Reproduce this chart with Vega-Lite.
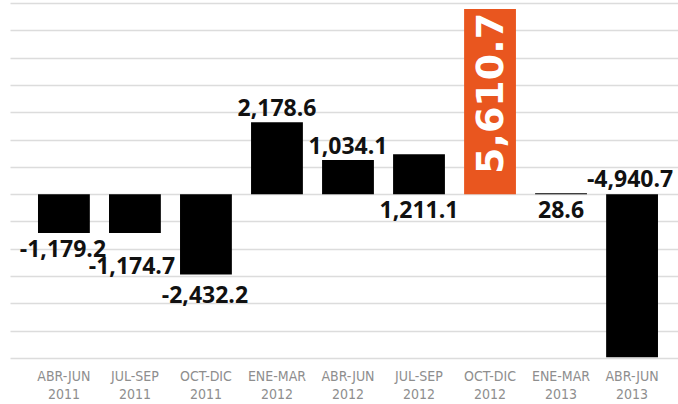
{
  "$schema": "https://vega.github.io/schema/vega-lite/v6.json",
  "width": 668,
  "height": 355,
  "autosize": {"type": "none"},
  "padding": {"left": 10, "top": 3, "right": 0, "bottom": 46},
  "background": "white",
  "config": {"view": {"stroke": null}},
  "data": {
    "values": [
      {"q": "ABR-JUN 2011", "v": -1179.2},
      {"q": "JUL-SEP 2011", "v": -1174.7},
      {"q": "OCT-DIC 2011", "v": -2432.2},
      {"q": "ENE-MAR 2012", "v": 2178.6},
      {"q": "ABR-JUN 2012", "v": 1034.1},
      {"q": "JUL-SEP 2012", "v": 1211.1},
      {"q": "OCT-DIC 2012", "v": 5610.7},
      {"q": "ENE-MAR 2013", "v": 28.6},
      {"q": "ABR-JUN 2013", "v": -4940.7}
    ]
  },
  "encoding": {
    "x": {
      "field": "q", "type": "nominal", "sort": null,
      "scale": {"paddingInner": 0.27, "paddingOuter": 0.338, "align": 0.583},
      "axis": {
        "title": null, "domain": false, "ticks": false, "labelAngle": 0,
        "labelExpr": "split(datum.label, ' ')",
        "labelFont": "Liberation Sans Narrow, DejaVu Sans Condensed, sans-serif",
        "labelFontSize": 14, "labelColor": "#8e8e8e", "labelPadding": 11,
        "labelLineHeight": 18
      }
    },
    "y": {
      "field": "v", "type": "quantitative",
      "scale": {"domain": [-4962, 5789], "nice": false, "zero": false},
      "axis": {
        "title": null, "labels": false, "ticks": false, "domain": false,
        "values": [-4962, -4135, -3308, -2481, -1654, -827, 0, 827, 1654, 2481, 3308, 4135, 4962, 5789],
        "grid": true, "gridColor": "#dcdcdc", "gridWidth": 1.5
      }
    }
  },
  "layer": [
    {
      "mark": {"type": "bar"},
      "encoding": {
        "y2": {"datum": 0},
        "color": {"condition": {"test": "datum.q === 'OCT-DIC 2012'", "value": "#e9561f"}, "value": "#000000"}
      }
    },
    {
      "transform": [{"filter": {"field": "q", "oneOf": ["ENE-MAR 2012", "ABR-JUN 2012"]}}],
      "mark": {"type": "text", "font": "Open Sans", "fontWeight": "bold", "fontSize": 23, "baseline": "bottom", "dy": -1, "color": "#111", "text": {"expr": "replace(format(datum.v, ',.1f'), '\u2212', '-')"}}
    },
    {
      "transform": [{"filter": {"field": "q", "oneOf": ["JUL-SEP 2012", "ENE-MAR 2013"]}}],
      "mark": {"type": "text", "font": "Open Sans", "fontWeight": "bold", "fontSize": 23, "baseline": "top", "dy": 6, "color": "#111", "text": {"expr": "replace(format(datum.v, ',.1f'), '\u2212', '-')"}},
      "encoding": {"y": {"datum": 0}}
    },
    {
      "transform": [{"filter": {"field": "q", "oneOf": ["ABR-JUN 2013"]}}],
      "mark": {"type": "text", "font": "Open Sans", "fontWeight": "bold", "fontSize": 23, "baseline": "bottom", "dy": -2, "dx": -2, "color": "#111", "text": {"expr": "replace(format(datum.v, ',.1f'), '\u2212', '-')"}},
      "encoding": {"y": {"datum": 0}}
    },
    {
      "transform": [{"filter": {"field": "q", "oneOf": ["ABR-JUN 2011"]}}],
      "mark": {"type": "text", "font": "Open Sans", "fontWeight": "bold", "fontSize": 23, "baseline": "top", "dy": 6, "dx": -1, "color": "#111", "text": {"expr": "replace(format(datum.v, ',.1f'), '\u2212', '-')"}}
    },
    {
      "transform": [{"filter": {"field": "q", "oneOf": ["JUL-SEP 2011"]}}],
      "mark": {"type": "text", "font": "Open Sans", "fontWeight": "bold", "fontSize": 23, "baseline": "top", "dy": 23, "dx": -3, "color": "#111", "text": {"expr": "replace(format(datum.v, ',.1f'), '\u2212', '-')"}}
    },
    {
      "transform": [{"filter": {"field": "q", "oneOf": ["OCT-DIC 2011"]}}],
      "mark": {"type": "text", "font": "Open Sans", "fontWeight": "bold", "fontSize": 23, "baseline": "top", "dy": 11, "dx": -1, "color": "#111", "text": {"expr": "replace(format(datum.v, ',.1f'), '\u2212', '-')"}}
    },
    {
      "transform": [{"filter": {"field": "q", "oneOf": ["OCT-DIC 2012"]}}],
      "mark": {"type": "text", "font": "DejaVu Sans", "fontWeight": "bold", "fontSize": 38, "angle": 270, "align": "right", "baseline": "middle", "dx": -4, "dy": 2, "color": "#ffffff", "text": {"expr": "format(datum.v, ',.1f')"}}
    }
  ]
}
